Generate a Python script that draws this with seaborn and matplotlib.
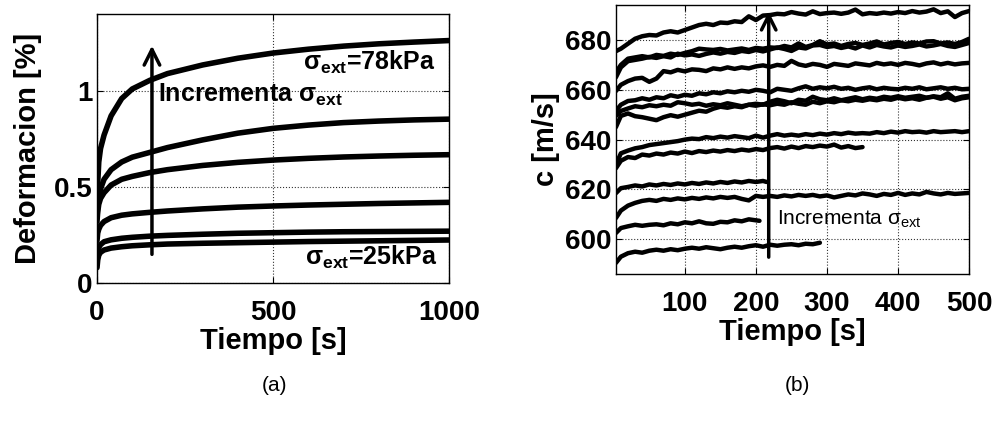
import numpy as np
import pandas as pd
import matplotlib
matplotlib.use('Agg')
import matplotlib.pyplot as plt
import seaborn as sns

# (a) deformacion vs tiempo, one curve per confining stress
t_def = [0, 2, 5, 10, 20, 40, 70, 100, 150, 200, 300, 400, 500, 600, 700, 800, 900, 1000]
def_78 = [0.36, 0.52, 0.63, 0.70, 0.77, 0.87, 0.96, 1.01, 1.055, 1.09, 1.135, 1.17, 1.197, 1.217, 1.233, 1.245, 1.254, 1.262]
def_b = [0.34, 0.40, 0.45, 0.49, 0.54, 0.59, 0.63, 0.655, 0.68, 0.705, 0.745, 0.78, 0.805, 0.822, 0.835, 0.843, 0.849, 0.853]
def_c = [0.32, 0.37, 0.41, 0.44, 0.47, 0.51, 0.54, 0.555, 0.575, 0.59, 0.612, 0.628, 0.64, 0.649, 0.656, 0.661, 0.665, 0.668]
def_d = [0.22, 0.26, 0.28, 0.30, 0.32, 0.34, 0.353, 0.36, 0.368, 0.375, 0.386, 0.395, 0.401, 0.406, 0.41, 0.414, 0.417, 0.42]
def_e = [0.12, 0.16, 0.185, 0.20, 0.215, 0.225, 0.233, 0.238, 0.244, 0.248, 0.254, 0.259, 0.262, 0.265, 0.267, 0.268, 0.269, 0.27]
def_25 = [0.08, 0.12, 0.145, 0.16, 0.172, 0.182, 0.189, 0.194, 0.199, 0.203, 0.207, 0.21, 0.213, 0.216, 0.218, 0.22, 0.222, 0.224]

# (b) velocidad c vs tiempo
t_500 = [3, 10, 20, 30, 40, 50, 60, 70, 80, 90, 100, 110, 120, 130, 140, 150, 160, 170, 180, 190,
         200, 210, 220, 230, 240, 250, 260, 270, 280, 290, 300, 310, 320, 330, 340, 350, 360, 370,
         380, 390, 400, 410, 420, 430, 440, 450, 460, 470, 480, 490, 500]
t_350 = t_500[:36]
t_290 = t_500[:30]
t_215 = t_500[:22] + [215]
t_205 = t_500[:21] + [205]

c_a = [675.5, 676.5, 678.5, 680.5, 681.5, 682, 681.8, 683, 683.5, 683, 684, 685, 686, 686.5, 686, 687, 686.8,
       687.5, 687.2, 689.5, 688, 689.8, 690, 690.5, 690.3, 691.2, 690.6, 690.2, 691.5, 690.4, 690.8, 691,
       690.5, 691, 692.2, 690.3, 690.8, 690.5, 691, 690.6, 691.2, 690.8, 691.6, 691, 691.4, 692.3, 690.8,
       691.5, 689.2, 690.8, 691.6]
c_b1 = [667, 670, 672.5, 673, 673.5, 673, 674, 673.6, 674.5, 674, 674.8, 675.5, 676.5, 676.2, 676, 676.4,
        675.8, 676.2, 676.6, 676, 676.8, 676.5, 677, 676.8, 677.6, 677, 678.6, 677.2, 678, 679.5, 678.2,
        678.6, 677.6, 678.4, 678.8, 678, 678.6, 679.4, 678.2, 678.8, 679.2, 678.4, 679, 678.6, 679.4, 679.5,
        678.6, 679, 678.4, 679.2, 680.5]
c_b2 = [665, 669, 671.5, 672, 672.5, 673.2, 672.8, 673.5, 673, 674.5, 673.8, 674.2, 673.6, 674.4, 675, 674.5,
        675.2, 674.8, 675.6, 675.2, 676, 675.4, 676.2, 677, 676.4, 675.6, 677, 676.6, 677.8, 678, 677.2,
        677.6, 676.8, 677.4, 676.6, 677.8, 677, 678, 677.4, 677, 677.8, 677.2, 677.6, 678.2, 677.4, 677.8,
        678.4, 677.6, 677.2, 678, 678.8]
c_c = [659.5, 662, 663.5, 664.5, 664.8, 663.2, 664.5, 667.5, 667, 668, 667.4, 668.2, 668, 667.5, 668.6, 668.2,
       669, 668.4, 669, 668.6, 669.4, 669.8, 669.2, 670, 669.6, 671.6, 670.2, 669.6, 670.4, 670, 669.2,
       670.4, 670, 669.6, 670.6, 670.2, 669.8, 670.8, 670.2, 670.6, 670, 670.8, 670.4, 669.8, 670.6, 671,
       670.2, 670.8, 670.2, 670.6, 670.8]
c_d1 = [651.5, 654, 655.5, 655.8, 656.6, 656, 657, 656.6, 657.8, 657.2, 658, 657.6, 658.6, 658.2, 659, 658.6,
        659.4, 659, 659.6, 659.2, 660, 659.6, 659, 660.4, 660, 659.6, 660.6, 661.4, 660.4, 661, 660.6,
        661.2, 660.4, 660.8, 660, 660.6, 661, 660.2, 660.8, 660.4, 660.2, 660.8, 660.4, 661, 660.2, 660.6,
        661, 660.4, 660.8, 660.2, 660.4]
c_d2 = [649.5, 651.5, 652.5, 653.4, 653, 653.8, 653.4, 654, 653.6, 655, 654.6, 654, 654.4, 653.6, 654.2, 653.8,
        654.6, 654, 653.4, 654, 654.4, 654, 655.2, 656, 655.4, 654.6, 656, 655.6, 657.2, 656.2, 655.8,
        656.6, 655.8, 656.4, 657, 656.2, 656.8, 656.4, 657.2, 656.8, 657.4, 656.8, 657.2, 657.6, 656.8, 657.4,
        657, 658.6, 656.4, 657.2, 657.6]
c_d3 = [645, 649.5, 650.5, 649.4, 649, 648.4, 647.8, 649, 649.8, 649.2, 650, 650.8, 651.6, 651.2, 652.4, 653.2,
        652.8, 653.4, 653, 654, 653.6, 654.2, 653.8, 654.4, 654, 655, 654.4, 654, 655.2, 654.6, 655.4,
        655, 655.8, 655.4, 656, 655.6, 656.2, 655.8, 656.4, 656, 656.8, 656.2, 656.6, 656, 656.8, 657.2,
        656.4, 657, 655.8, 656.6, 657]
c_e = [630, 634.5, 635.6, 636.5, 637, 637.8, 638.2, 638.6, 639, 639.4, 640, 640.4, 640.2, 641, 640.6, 641.2,
       640.8, 641.4, 641, 640.6, 641.6, 640.8, 641.6, 642.2, 641.6, 642, 641.6, 642.2, 641.8, 642.4, 642,
       642.6, 642.2, 642.8, 642.4, 642.6, 642.4, 643, 642.6, 643.2, 642.8, 643.4, 643, 643.2, 642.8, 643.4,
       643, 643.2, 643.4, 643, 643.4]
c_f = [628.5, 631.5, 633, 632.6, 634, 633.6, 634.4, 634, 634.8, 634.4, 635.2, 634.6, 635.4, 635, 635.6, 635.2,
       635.8, 635.4, 636, 635.6, 636.2, 635.8, 636.6, 637, 636.4, 637.2, 636.6, 637.4, 637, 637.6, 637.2,
       638, 636.8, 637.4, 636.6, 637]
c_g = [618.5, 620.5, 621, 621.6, 621.2, 622, 621.6, 622.2, 621.8, 622.4, 622, 622.6, 622.2, 622.8, 622.4, 623,
       622.6, 623.2, 622.8, 623.4, 623, 623.4, 623]
c_h = [608.5, 611.5, 613.5, 614.6, 615.4, 615.8, 615.4, 616.2, 615.8, 616.4, 616, 616.6, 616.2, 616.8, 616.4, 617,
       616.6, 617, 616.2, 615.6, 617.4, 617, 617.4, 617, 617.6, 617.2, 617.8, 617.4, 617.8, 617.2, 617.6,
       616.8, 617.4, 618, 617.6, 618.4, 618, 617.4, 618.2, 617.8, 618.6, 617.8, 618.4, 618, 619, 618.4,
       618, 618.6, 618.2, 618.4, 618.6]
c_i = [602.5, 604.5, 605.2, 605.8, 605.4, 605.8, 606, 605.6, 606.4, 606, 606.8, 606.4, 607.2, 606.4, 606.2, 607,
       606.8, 607.6, 607.2, 608, 607.6, 607.4]
c_j = [590.5, 593, 594.4, 595, 594.6, 595.4, 595.8, 595.4, 596, 595.6, 596.2, 596.6, 596.2, 596.8, 596.4, 596,
       596.6, 597, 596.6, 597.2, 597.6, 597, 597.8, 597.4, 597.8, 598, 597.6, 598.2, 598, 598.6]

# long tables for seaborn
curvas_a = {'78kPa': def_78, 'b': def_b, 'c': def_c, 'd': def_d, 'e': def_e, '25kPa': def_25}
df_a = pd.concat([pd.DataFrame({'t': t_def, 'def': v, 'curva': k}) for k, v in curvas_a.items()])

curvas_b = [(t_500, c_a), (t_500, c_b1), (t_500, c_b2), (t_500, c_c), (t_500, c_d1), (t_500, c_d2),
            (t_500, c_d3), (t_500, c_e), (t_350, c_f), (t_215, c_g), (t_500, c_h), (t_205, c_i), (t_290, c_j)]
df_b = pd.concat([pd.DataFrame({'t': tt, 'c': cc, 'curva': i}) for i, (tt, cc) in enumerate(curvas_b)])

sns.set_style('white')
plt.rcParams['font.family'] = ['Liberation Sans', 'DejaVu Sans']
plt.rcParams['font.weight'] = 'bold'
plt.rcParams['axes.labelweight'] = 'bold'
plt.rcParams['text.color'] = 'black'
plt.rcParams['axes.labelcolor'] = 'black'
plt.rcParams['xtick.color'] = 'black'
plt.rcParams['ytick.color'] = 'black'
plt.rcParams['mathtext.fontset'] = 'custom'
plt.rcParams['mathtext.rm'] = 'Liberation Sans:weight=normal'
plt.rcParams['mathtext.bf'] = 'Liberation Sans:weight=bold'
plt.rcParams['mathtext.it'] = 'Liberation Sans:style=italic'

fig = plt.figure(figsize=(9.95, 4.25), dpi=100)
ax1 = fig.add_axes([0.0975, 0.334, 0.354, 0.633])
ax2 = fig.add_axes([0.619, 0.355, 0.355, 0.633])

sns.lineplot(data=df_a, x='t', y='def', units='curva', estimator=None, color='black',
             linewidth=4, sort=False, ax=ax1)
sns.lineplot(data=df_b, x='t', y='c', units='curva', estimator=None, color='black',
             linewidth=3.2, sort=False, ax=ax2)

for ax in (ax1, ax2):
    for s in ax.spines.values():
        s.set_visible(True)
        s.set_color('black')
        s.set_linewidth(1.0)
    ax.grid(True, linestyle=':', color='black', linewidth=0.8, alpha=0.8)
    ax.tick_params(direction='in', length=4, width=0.8, labelsize=20, top=True, right=True,
                   bottom=True, left=True, colors='black')

ax1.set_xlim(0, 1000)
ax1.set_ylim(0, 1.4)
ax1.set_xticks([0, 500, 1000])
ax1.set_yticks([0, 0.5, 1])
ax1.set_yticklabels(['0', '0.5', '1'], fontweight='bold')
ax1.set_xticklabels(['0', '500', '1000'], fontweight='bold')
ax1.tick_params(axis='x', pad=12)
ax1.set_xlabel('Tiempo [s]', fontsize=21, fontweight='bold', labelpad=1)
ax1.set_ylabel('Deformacion [%]', fontsize=21, fontweight='bold', labelpad=8)

ax1.annotate('', xy=(156, 1.25), xytext=(156, 0.135),
             arrowprops=dict(arrowstyle='->', lw=2.5, color='black', mutation_scale=28))
ax1.text(172, 0.98, r'Incrementa $\mathbf{\sigma_{ext}}$', fontsize=18, fontweight='bold', va='center')
ax1.text(962, 1.11, r'$\mathbf{\sigma_{ext}}$=78kPa', fontsize=18, fontweight='bold', ha='right', va='baseline')
ax1.text(966, 0.094, r'$\mathbf{\sigma_{ext}}$=25kPa', fontsize=18, fontweight='bold', ha='right', va='baseline')

ax2.set_xlim(3, 500)
ax2.set_ylim(586, 694)
ax2.set_xticks([100, 200, 300, 400, 500])
ax2.set_yticks([600, 620, 640, 660, 680])
ax2.set_xticklabels(['100', '200', '300', '400', '500'], fontweight='bold')
ax2.set_yticklabels(['600', '620', '640', '660', '680'], fontweight='bold')
ax2.tick_params(axis='x', pad=12)
ax2.set_xlabel('Tiempo [s]', fontsize=21, fontweight='bold', labelpad=1)
ax2.set_ylabel('c [m/s]', fontsize=21, fontweight='bold', labelpad=3)

ax2.annotate('', xy=(218, 692.5), xytext=(218, 591.7),
             arrowprops=dict(arrowstyle='->', lw=2.5, color='black', mutation_scale=26))
ax2.text(230, 608, r'Incrementa $\mathrm{\sigma_{ext}}$', fontsize=15, fontweight='normal', va='center')

fig.text(0.276, 0.094, '(a)', fontsize=15, fontweight='normal', ha='center', va='center')
fig.text(0.801, 0.094, '(b)', fontsize=15, fontweight='normal', ha='center', va='center')

fig.savefig('out.png', dpi=100)
